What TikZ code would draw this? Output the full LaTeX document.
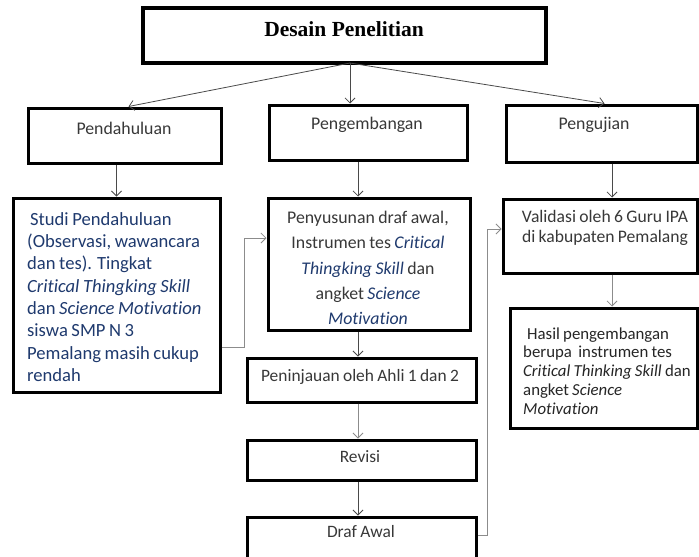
\documentclass[tikz,border=0pt]{standalone}
\usepackage{fontspec}
\setmainfont{Carlito}[Ligatures=NoCommon, WordSpace=0.85]
\newfontfamily\titlefont{Liberation Serif}
\usetikzlibrary{arrows.meta}
\definecolor{navy}{HTML}{1F3A6E}
\definecolor{txt}{HTML}{383838}
\definecolor{lgray}{HTML}{8C8C8C}
\definecolor{dgray}{HTML}{4A4A4A}
\tikzset{
  box/.style={draw=black, line width=3pt, fill=white, inner sep=0pt},
  lbl/.style={inner sep=0pt, text=txt},
  arr/.style={-{Straight Barb[length=5pt,width=10pt]}, line width=0.8pt, draw=dgray},
  garr/.style={-{Straight Barb[length=5pt,width=10pt]}, line width=0.8pt, draw=lgray},
}
\begin{document}
\begin{tikzpicture}[x=1pt,y=-1pt]
\useasboundingbox (0,0) rectangle (699,557);
% boxes
\node[box, line width=3.5pt, minimum width=403pt, minimum height=55pt] (title) at (344.5,35.5) {};
\node[box, minimum width=193pt, minimum height=55pt] (pend) at (124.5,135.5) {};
\node[box, minimum width=198pt, minimum height=55pt] (peng) at (368,132.5) {};
\node[box, minimum width=191pt, minimum height=57pt] (uji) at (601.5,133.5) {};
\node[box, minimum width=207pt, minimum height=194pt] (studi) at (116.5,295) {};
\node[box, minimum width=202pt, minimum height=132pt] (peny) at (369,264) {};
\node[box, minimum width=229pt, minimum height=44pt] (penin) at (361.5,380) {};
\node[box, minimum width=229pt, minimum height=40pt] (rev) at (361.5,460) {};
\node[box, minimum width=229pt, minimum height=46pt] (draf) at (361.5,540) {};
\node[box, minimum width=194pt, minimum height=74pt] (valid) at (600,236) {};
\node[box, minimum width=187pt, minimum height=120pt] (hasil) at (603.5,368) {};
% texts
\node[inner sep=0pt, font=\titlefont\bfseries\fontsize{21.5}{25}\selectfont] (titleT) at (344,29) {Desain Penelitian};
\node[lbl, font=\fontsize{17.8}{21}\selectfont] (pendT) at (124,128) {Pendahuluan};
\node[lbl, font=\fontsize{17.8}{21}\selectfont] (pengT) at (367,125) {Pengembangan};
\node[lbl, font=\fontsize{17.8}{21}\selectfont] (ujiT) at (594,125) {Pengujian};
\node[lbl, text=navy, anchor=west, align=left, font=\fontsize{18.6}{22.3}\selectfont] (studiT) at (27,297) {\hspace{3pt}Studi Pendahuluan\\(Observasi, wawancara\\dan tes). Tingkat\\\textit{Critical Thingking Skill}\\dan \textit{Science Motivation}\\siswa SMP N 3\\Pemalang masih cukup\\rendah};
\begin{scope}
\clip ([xshift=1.5pt,yshift=1.5pt]peny.north west) rectangle ([xshift=-1.5pt,yshift=-1.5pt]peny.south east);
\node[lbl, align=center, font=\fontsize{17.8}{25.3}\selectfont] (penyT) at (368,268) {Penyusunan draf awal,\\Instrumen tes \textcolor{navy}{\textit{Critical}}\\\textcolor{navy}{\textit{Thingking Skill}} dan\\angket \textcolor{navy}{\textit{Science}}\\\textcolor{navy}{\textit{Motivation}}};
\end{scope}
\node[lbl, font=\fontsize{17.4}{20}\selectfont] (peninT) at (360,377) {Peninjauan oleh Ahli 1 dan 2};
\node[lbl, font=\fontsize{17.4}{20}\selectfont] (revT) at (360,457) {Revisi};
\node[lbl, font=\fontsize{17.4}{20}\selectfont] (drafT) at (361,532) {Draf Awal};
\node[lbl, align=center, font=\fontsize{17.6}{20.5}\selectfont] (validT) at (605,228) {Validasi oleh 6 Guru IPA\\di kabupaten Pemalang};
\node[lbl, text=black!85, anchor=west, align=left, font=\fontsize{16.8}{18.8}\selectfont] (hasilT) at (523,371) {\hspace{4pt}Hasil pengembangan\\berupa\ \ instrumen tes\\\textit{Critical Thinking Skill} dan\\angket \textit{Science}\\\textit{Motivation}};
% connector helper coordinates
\coordinate (ts) at (350,63);
\coordinate (cx) at (358,0);
\coordinate (ux) at (612,0);
\coordinate (k1) at (244,347);
\coordinate (k2) at (244,238);
\coordinate (k3) at (487,535);
\coordinate (k4) at (487,229);
% connectors
\draw[arr] (ts) -- ([xshift=4pt]pend.north);
\draw[arr] (ts) -- (ts |- peng.north);
\draw[arr] (ts) -- ([xshift=3pt]uji.north);
\draw[arr] (pend.south -| studi.north) -- (studi.north);
\draw[arr] (peng.south -| cx) -- (peny.north -| cx);
\draw[arr] (uji.south -| ux) -- (valid.north -| ux);
\draw[arr] (peny.south -| cx) -- (penin.north -| cx);
\draw[garr] (penin.south -| cx) -- (rev.north -| cx);
\draw[arr] (rev.south -| cx) -- (draf.north -| cx);
\draw[garr] (valid.south -| ux) -- (hasil.north -| ux);
\draw[garr] (studi.east |- k1) -- (k1) -- (k2) -- (peny.west |- k2);
\draw[garr] (draf.east |- k3) -- (k3) -- (k4) -- (valid.west |- k4);
\end{tikzpicture}
\end{document}
